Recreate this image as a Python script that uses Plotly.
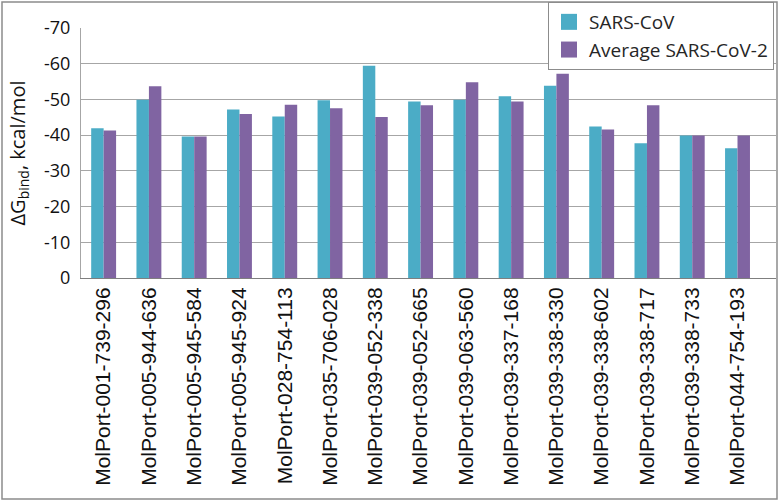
import plotly.graph_objects as go

# ── Data ─────────────────────────────────────────────────────────────────────
compounds = [
    "MolPort-001-739-296", "MolPort-005-944-636", "MolPort-005-945-584",
    "MolPort-005-945-924", "MolPort-028-754-113", "MolPort-035-706-028",
    "MolPort-039-052-338", "MolPort-039-052-665", "MolPort-039-063-560",
    "MolPort-039-337-168", "MolPort-039-338-330", "MolPort-039-338-602",
    "MolPort-039-338-717", "MolPort-039-338-733", "MolPort-044-754-193",
]
sars_cov = [-41.9, -49.9, -39.6, -47.2, -45.2, -49.8, -59.4, -49.4,
            -49.9, -50.9, -53.8, -42.4, -37.7, -39.9, -36.3]
sars_cov2_avg = [-41.3, -53.7, -39.6, -45.9, -48.5, -47.5, -45.1, -48.4,
                 -54.8, -49.4, -57.2, -41.6, -48.4, -39.9, -39.9]
y_ticks = [0, -10, -20, -30, -40, -50, -60, -70]

CYAN = "#4BACC6"
PURPLE = "#8064A2"
GRID = "#a6a6a6"
FRAME = "#8c8c8c"

W, H = 780, 502
L, R, T, B = 81, 4, 28, 224
PW, PH = W - L - R, H - T - B


def px_x(x):
    return (x - L) / PW


def px_y(y):
    return (H - B - y) / PH


fig = go.Figure()
for name, vals, col in [("SARS-CoV", sars_cov, CYAN),
                        ("Average SARS-CoV-2", sars_cov2_avg, PURPLE)]:
    fig.add_trace(go.Bar(x=compounds, y=vals, name=name, marker_color=col,
                         marker_line_width=0, showlegend=False))
    # legend-only proxy so the legend swatch can be larger than the bar default
    fig.add_trace(go.Scatter(x=[None], y=[None], name=name, mode="markers",
                             marker=dict(symbol="square", size=16, color=col)))

fig.update_layout(
    width=W, height=H,
    paper_bgcolor="white", plot_bgcolor="white",
    margin=dict(l=L, r=R, t=T, b=B, autoexpand=False),
    barmode="group", bargap=0.45, bargroupgap=0,
    font=dict(family="Open Sans, sans-serif", color="#222222"),
    showlegend=True,
    legend=dict(x=px_x(548), y=px_y(2), xanchor="left", yanchor="top",
                bgcolor="white", bordercolor=FRAME, borderwidth=1,
                font=dict(size=19, color="#262626"), itemsizing="trace",
                tracegroupgap=0),
    xaxis=dict(
        type="category", range=[-0.5, 14.85], tickangle=-90,
        tickfont=dict(family="Liberation Sans, Arial, sans-serif", size=21, color="#111111"),
        showline=True, linecolor="#7f7f7f", linewidth=1,
        showgrid=False, ticks="", automargin=False,
    ),
    yaxis=dict(
        range=[0, -70], tickvals=y_ticks, ticktext=[str(v) for v in y_ticks],
        tickfont=dict(size=18, color="#111111"), ticks="", ticklabelstandoff=6,
        showgrid=True, gridcolor=GRID, gridwidth=1, zeroline=False,
        showline=True, linecolor=GRID, linewidth=1, automargin=False,
        title=dict(text="ΔG<sub>bind</sub>, kcal/mol", standoff=13,
                   font=dict(size=20, color="#111111")),
    ),
    shapes=[dict(type="rect", xref="paper", yref="paper",
                 x0=px_x(2), x1=px_x(777), y0=px_y(499), y1=px_y(2),
                 line=dict(color=FRAME, width=1.5), layer="above")],
)

fig.write_html("out.html", config={"displayModeBar": False},
               post_script="document.body.style.margin='0';document.body.style.padding='0';")
